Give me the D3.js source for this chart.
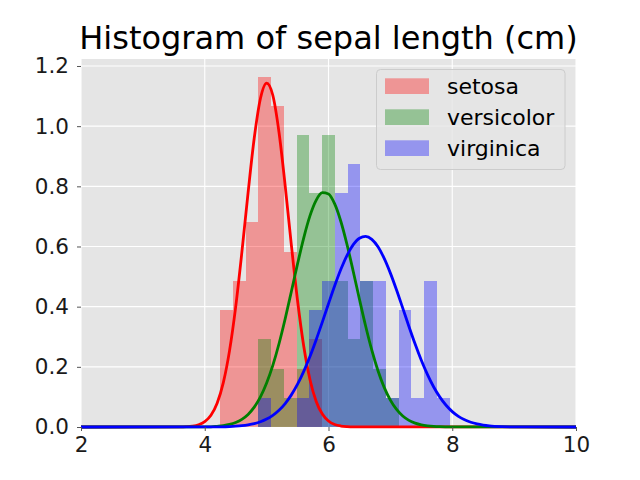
<!DOCTYPE html>
<html>
<head>
<meta charset="utf-8">
<script src="https://cdn.jsdelivr.net/npm/d3@7"></script>
<style>
  html, body { margin: 0; padding: 0; background: #ffffff; }
  svg { display: block; font-family: "DejaVu Sans", sans-serif; }
</style>
</head>
<body>
<svg id="chart" width="640" height="480"></svg>
<script>
// ---- data ----
const title = "Histogram of sepal length (cm)";
const species = ["setosa", "versicolor", "virginica"];
const seriesColors = ["#ff0000", "#008000", "#0000ff"];
const xTicks = [2, 4, 6, 8, 10];
const yTicks = [0.0, 0.2, 0.4, 0.6, 0.8, 1.0, 1.2];

// shared histogram bin edges (cm)
const binEdges = [4.25, 4.456, 4.662, 4.868, 5.074, 5.28, 5.486, 5.692, 5.898, 6.104,
                  6.31, 6.516, 6.722, 6.928, 7.134, 7.34, 7.546, 7.752, 7.958];
// density per bin
const setosaDensity     = [0.388, 0.485, 0.680, 1.165, 1.068, 0.583, 0.194, 0.291, 0, 0, 0, 0, 0, 0, 0, 0, 0, 0];
const versicolorDensity = [0, 0, 0, 0.291, 0.194, 0.097, 0.971, 0.777, 0.971, 0.485, 0.291, 0.485, 0.194, 0.097, 0, 0, 0, 0];
const virginicaDensity  = [0, 0, 0, 0.097, 0, 0, 0.097, 0.388, 0.485, 0.777, 0.874, 0.485, 0.485, 0.097, 0.388, 0.097, 0.485, 0.097];

// fitted normal curves, sampled points [x, density]
const setosaCurve = [[2,0],[3.6,0.0003],[3.7,0.001],[3.8,0.0029],[3.9,0.0075],[4.0,0.0179],[4.1,0.0392],[4.2,0.0793],
  [4.3,0.1476],[4.4,0.2531],[4.5,0.3994],[4.6,0.5810],[4.7,0.7783],[4.8,0.9605],[4.9,1.0918],
  [5.0,1.1432],[5.1,1.1027],[5.2,0.9796],[5.3,0.8017],[5.4,0.6044],[5.5,0.4196],[5.6,0.2684],
  [5.7,0.1581],[5.8,0.0859],[5.9,0.0429],[6.0,0.0198],[6.1,0.0084],[6.2,0.0033],[6.3,0.0012],[6.4,0.0004],[10,0]];
const versicolorCurve = [[2,0],[3.9,0.0001],[4.0,0.0003],[4.1,0.0006],[4.2,0.0024],[4.3,0.0046],[4.4,0.0085],[4.5,0.0151],[4.6,0.0256],
  [4.7,0.0419],[4.8,0.0660],[4.9,0.1000],[5.0,0.1459],[5.1,0.2048],[5.2,0.2767],[5.3,0.3598],
  [5.4,0.4504],[5.5,0.5425],[5.6,0.6289],[5.7,0.7018],[5.8,0.7535],[5.9,0.7788],[6.0,0.7746],
  [6.1,0.7415],[6.2,0.6831],[6.3,0.6057],[6.4,0.5170],[6.5,0.4246],[6.6,0.3356],[6.7,0.2553],
  [6.8,0.1870],[6.9,0.1317],[7.0,0.0893],[7.1,0.0583],[7.2,0.0366],[7.3,0.0221],[7.4,0.0129],
  [7.5,0.0072],[7.6,0.0039],[7.7,0.0020],[7.8,0.0010],[7.9,0.0005],[8.0,0.0002],[10,0]];
const virginicaCurve = [[2,0],[4.0,0.0001],[4.2,0.0006],[4.4,0.0015],[4.5,0.0026],[4.6,0.0043],[4.7,0.0071],[4.8,0.0112],[4.9,0.0174],
  [5.0,0.0263],[5.1,0.0388],[5.2,0.0557],[5.3,0.0781],[5.4,0.1068],[5.5,0.1423],[5.6,0.1849],
  [5.7,0.2343],[5.8,0.2895],[5.9,0.3487],[6.0,0.4097],[6.1,0.4693],[6.2,0.5241],[6.3,0.5707],
  [6.4,0.6061],[6.5,0.6276],[6.6,0.6336],[6.7,0.6237],[6.8,0.5988],[6.9,0.5604],[7.0,0.5115],
  [7.1,0.4553],[7.2,0.3951],[7.3,0.3343],[7.4,0.2758],[7.5,0.2219],[7.6,0.1741],[7.7,0.1331],
  [7.8,0.0993],[7.9,0.0722],[8.0,0.0512],[8.1,0.0354],[8.2,0.0239],[8.3,0.0157],[8.4,0.0101],
  [8.5,0.0063],[8.6,0.0038],[8.8,0.0013],[9.0,0.0004],[9.2,0.0001],[10,0]];

const densities = [setosaDensity, versicolorDensity, virginicaDensity];
const curves = [setosaCurve, versicolorCurve, virginicaCurve];

// ---- layout ----
const W = 640, H = 480;
const m = { left: 81, right: 64, top: 59, bottom: 53 };
const svg = d3.select("#chart");

const x = d3.scaleLinear().domain([2, 10]).range([m.left, W - m.right]);
const yMax = d3.max(densities.flat()) * 1.05;
const y = d3.scaleLinear().domain([0, yMax]).range([H - m.bottom, m.top]);

// axes background
svg.append("rect")
  .attr("x", m.left).attr("y", m.top)
  .attr("width", x.range()[1] - m.left).attr("height", (H - m.bottom) - m.top)
  .attr("fill", "#e5e5e5");

// gridlines
const grid = svg.append("g");
grid.selectAll("line.gx").data(xTicks).join("line")
  .attr("x1", d => x(d)).attr("x2", d => x(d))
  .attr("y1", m.top).attr("y2", H - m.bottom)
  .attr("stroke", "#ffffff").attr("stroke-width", 1.1);
grid.selectAll("line.gy").data(yTicks).join("line")
  .attr("x1", m.left).attr("x2", x.range()[1])
  .attr("y1", d => y(d)).attr("y2", d => y(d))
  .attr("stroke", "#ffffff").attr("stroke-width", 1.1);

// histograms
const bins = d3.range(binEdges.length - 1);
densities.forEach((dens, si) => {
  svg.append("g").selectAll("rect")
    .data(bins.filter(i => dens[i] > 0))
    .join("rect")
    .attr("x", i => x(binEdges[i]))
    .attr("width", i => x(binEdges[i + 1]) - x(binEdges[i]))
    .attr("y", i => y(dens[i]))
    .attr("height", i => y(0) - y(dens[i]))
    .attr("fill", seriesColors[si])
    .attr("fill-opacity", 0.35)
    .attr("shape-rendering", "crispEdges");
});

// curves
const line = d3.line().x(d => x(d[0])).y(d => y(d[1])).curve(d3.curveMonotoneX);
curves.forEach((c, si) => {
  svg.append("path")
    .attr("d", line(c))
    .attr("fill", "none")
    .attr("stroke", seriesColors[si])
    .attr("stroke-width", 2.8)
    .attr("stroke-linejoin", "round");
});

// axes (ticks + labels)
const xAxis = d3.axisBottom(x).tickValues(xTicks).tickFormat(d3.format("d")).tickSize(4).tickPadding(6);
const yAxis = d3.axisLeft(y).tickValues(yTicks).tickFormat(d3.format(".1f")).tickSize(4).tickPadding(8);

const gx = svg.append("g").attr("transform", `translate(0,${H - m.bottom})`).call(xAxis);
const gy = svg.append("g").attr("transform", `translate(${m.left},0)`).call(yAxis);
[gx, gy].forEach(g => {
  g.select(".domain").remove();
  g.selectAll(".tick line").attr("stroke", "#555555").attr("stroke-width", 1);
  g.selectAll(".tick text")
    .attr("fill", "#1a1a1a")
    .style("font-family", "DejaVu Sans")
    .style("font-size", "21.5px");
});

// title
svg.append("text")
  .attr("x", (m.left + x.range()[1]) / 2)
  .attr("y", 49)
  .attr("text-anchor", "middle")
  .style("font-size", "32px")
  .attr("fill", "#000000")
  .text(title);

// legend
const lg = svg.append("g");
lg.append("rect")
  .attr("x", 376.5).attr("y", 69.5)
  .attr("width", 188.5).attr("height", 100)
  .attr("rx", 4).attr("ry", 4)
  .attr("fill", "#e5e5e5").attr("fill-opacity", 0.8)
  .attr("stroke", "#cccccc").attr("stroke-width", 1);
species.forEach((s, i) => {
  const base = 94 + i * 31;
  lg.append("rect")
    .attr("x", 385).attr("y", base - 15.7)
    .attr("width", 44).attr("height", 15.7)
    .attr("fill", seriesColors[i]).attr("fill-opacity", 0.35);
  lg.append("text")
    .attr("x", 447).attr("y", base)
    .style("font-size", "22px")
    .attr("fill", "#000000")
    .text(s);
});
</script>
</body>
</html>
